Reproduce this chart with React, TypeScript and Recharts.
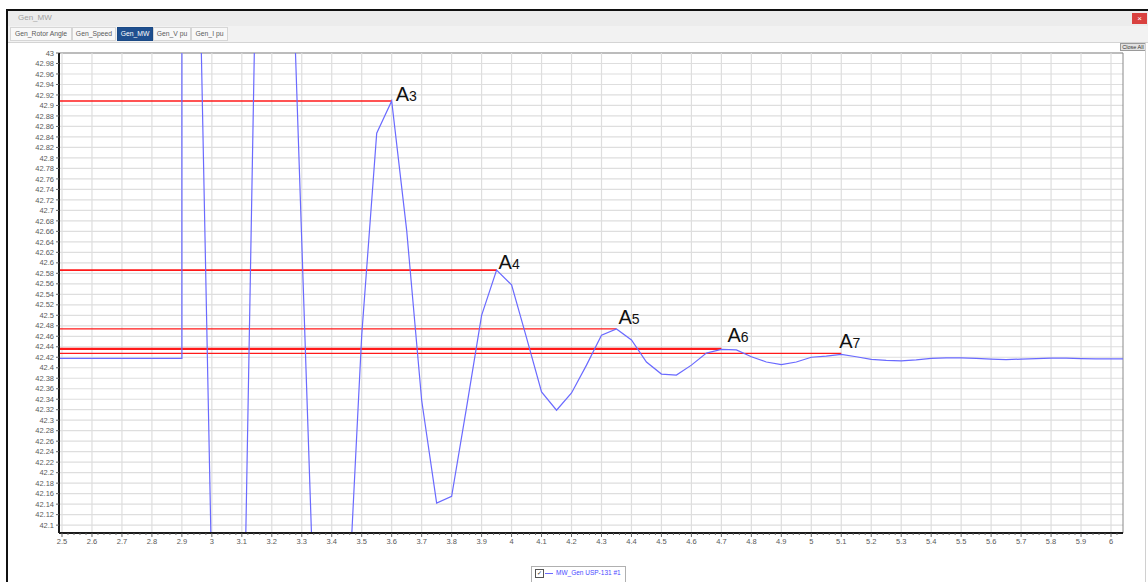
import React from 'react';
import {
  LineChart,
  Line,
  XAxis,
  YAxis,
  CartesianGrid,
  ReferenceLine,
  ReferenceDot,
  ReferenceArea,
} from 'recharts';

// ---- data (time in s, generator MW) ----
const timeS = [
  2.4, 2.9, 2.9, 2.95, 3.0, 3.05, 3.1, 3.15, 3.2, 3.25, 3.3, 3.35, 3.4, 3.45, 3.5,
  3.55, 3.6, 3.65, 3.7, 3.75, 3.8, 3.85, 3.9, 3.95, 4.0, 4.05, 4.1, 4.15, 4.2, 4.25,
  4.3, 4.35, 4.4, 4.45, 4.5, 4.55, 4.6, 4.65, 4.7, 4.75, 4.8, 4.85, 4.9, 4.95, 5.0,
  5.05, 5.1, 5.15, 5.2, 5.25, 5.3, 5.35, 5.4, 5.45, 5.5, 5.55, 5.6, 5.65, 5.7, 5.75,
  5.8, 5.85, 5.9, 5.95, 6.0, 6.05,
];
const mwValues = [
  42.418, 42.418, 44.8, 43.433, 41.988, 41.5, 41.654, 43.27, 43.8, 43.498, 42.64, 41.781, 41.5, 41.89, 42.462,
  42.847, 42.9085, 42.662, 42.338, 42.142, 42.155, 42.325, 42.5, 42.586, 42.558, 42.457, 42.354, 42.319, 42.352, 42.405,
  42.462, 42.474, 42.453, 42.411, 42.388, 42.386, 42.405, 42.428, 42.435, 42.434, 42.421, 42.411, 42.406, 42.411, 42.42,
  42.422, 42.4256, 42.421, 42.416, 42.414, 42.413, 42.415, 42.418, 42.419, 42.419, 42.418, 42.4165, 42.4155, 42.4165, 42.4175,
  42.4185, 42.4185, 42.4175, 42.417, 42.417, 42.417,
];

// peaks marked A3..A7
const peakNames = ['3', '4', '5', '6', '7'];
const peakTimes = [3.6, 3.95, 4.35, 4.7, 5.1];
const peakMW = [42.9085, 42.586, 42.474, 42.436, 42.4275];

// axis settings
const xDomain = [2.49, 6.04];
const yDomain = [42.085, 43];
const xMajorTicks = [
  2.5, 2.6, 2.7, 2.8, 2.9, 3.0, 3.1, 3.2, 3.3, 3.4, 3.5, 3.6, 3.7, 3.8, 3.9, 4.0, 4.1, 4.2,
  4.3, 4.4, 4.5, 4.6, 4.7, 4.8, 4.9, 5.0, 5.1, 5.2, 5.3, 5.4, 5.5, 5.6, 5.7, 5.8, 5.9, 6.0,
];
const xAllTicks: number[] = [];
for (let i = 0; i <= 176; i++) xAllTicks.push(Math.round((2.5 + i * 0.02) * 1000) / 1000);
const yTicks: number[] = [];
for (let i = 0; i <= 45; i++) yTicks.push(Math.round((42.1 + i * 0.02) * 1000) / 1000);

const data = timeS.map((t, i) => ({ t, mw: mwValues[i] }));

// styling
const FONT = '"Liberation Sans", Arial, sans-serif';
const labelNudge = [
  [4, 0],
  [2, -1],
  [2, -5],
  [6, -7],
  [-2, -5],
];
const redWidths = [1.5, 1.8, 1.3, 2.2, 1.3];

const fmt = (v: number) => String(Math.round(v * 1000) / 1000);

const XTick = (props: any) => {
  const { x, y, payload } = props;
  const v = payload.value as number;
  const major = Math.abs(v * 10 - Math.round(v * 10)) < 1e-6;
  return (
    <g>
      <line x1={x} x2={x} y1={y} y2={y + (major ? 4 : 2)} stroke="#666" strokeWidth={1} />
      {major && (
        <text x={x} y={y + 11} textAnchor="middle" fontSize={7.5} fill="#5a5a5a" fontFamily={FONT}>
          {fmt(v)}
        </text>
      )}
    </g>
  );
};

const makePeakLabel = (i: number) => (props: any) => {
  const vb = props.viewBox || {};
  const cx = (vb.x || 0) + (vb.width || 0) / 2;
  const cy = (vb.y || 0) + (vb.height || 0) / 2;
  return (
    <text x={cx + labelNudge[i][0]} y={cy + labelNudge[i][1]} fontFamily={FONT} fill="#111">
      <tspan fontSize={20}>A</tspan>
      <tspan fontSize={14}>{peakNames[i]}</tspan>
    </text>
  );
};

const tabs = [
  { name: 'Gen_Rotor Angle', left: 10, right: 72 },
  { name: 'Gen_Speed', left: 72, right: 116 },
  { name: 'Gen_MW', left: 117, right: 153 },
  { name: 'Gen_V pu', left: 153, right: 191 },
  { name: 'Gen_I pu', left: 191, right: 228 },
];
const selectedTab = 'Gen_MW';

export default function App() {
  return (
    <div
      style={{
        position: 'fixed',
        left: 0,
        top: 0,
        width: 1148,
        height: 582,
        background: '#fff',
        overflow: 'hidden',
        fontFamily: FONT,
      }}
    >
      {/* window frame */}
      <div
        style={{
          position: 'absolute',
          left: 6,
          top: 9,
          width: 1150,
          height: 580,
          borderTop: '2px solid #111',
          borderLeft: '2px solid #111',
        }}
      />
      {/* title bar */}
      <div
        style={{
          position: 'absolute',
          left: 8,
          top: 11,
          width: 1140,
          height: 15,
          background: '#ececec',
        }}
      >
        <span style={{ position: 'absolute', left: 10, top: 2, fontSize: 8, color: '#a0a0a0' }}>Gen_MW</span>
        <div
          style={{
            position: 'absolute',
            left: 1124,
            top: 2,
            width: 15,
            height: 11,
            background: '#d9413f',
            color: '#fff',
            fontSize: 8,
            lineHeight: '11px',
            textAlign: 'center',
          }}
        >
          ×
        </div>
      </div>
      {/* tab strip */}
      <div
        style={{
          position: 'absolute',
          left: 8,
          top: 26,
          width: 1140,
          height: 16,
          background: '#f2f2f2',
          borderBottom: '1px solid #d4d4d4',
        }}
      />
      {tabs.map((tb) => {
        const sel = tb.name === selectedTab;
        return (
          <div
            key={tb.name}
            style={{
              position: 'absolute',
              left: tb.left,
              top: 27,
              width: tb.right - tb.left,
              height: 14,
              boxSizing: 'border-box',
              border: sel ? '1px solid #1b4a86' : '1px solid #d6d6d6',
              background: sel ? '#1f4f8f' : '#f8f8f8',
              color: sel ? '#fff' : '#5a5a5a',
              fontSize: 6.8,
              lineHeight: '12px',
              textAlign: 'center',
              whiteSpace: 'nowrap',
            }}
          >
            {tb.name}
          </div>
        );
      })}
      {/* Close All button */}
      <div
        style={{
          position: 'absolute',
          left: 1120,
          top: 43,
          width: 26,
          height: 8,
          boxSizing: 'border-box',
          border: '1px solid #9a9a9a',
          background: '#e2e2e2',
          fontSize: 5.5,
          lineHeight: '6px',
          color: '#333',
          textAlign: 'center',
          whiteSpace: 'nowrap',
        }}
      >
        Close All
      </div>
      {/* right window edge */}
      <div style={{ position: 'absolute', left: 1145, top: 42, width: 1, height: 540, background: '#d0d0d0' }} />

      {/* chart */}
      <div style={{ position: 'absolute', left: 0, top: 0 }}>
        <LineChart width={1148} height={582} data={data} margin={{ top: 53, right: 25, bottom: 29, left: 0 }}>
          <CartesianGrid vertical={false} stroke="#dedede" strokeWidth={1.2} />
          {xMajorTicks.map((v) => (
            <ReferenceLine key={'vg' + v} x={v} stroke="#dedede" strokeWidth={1.2} />
          ))}
          <ReferenceArea
            x1={xDomain[0]}
            x2={xDomain[1]}
            y1={yDomain[0]}
            y2={yDomain[1]}
            fill="none"
            fillOpacity={0}
            stroke="#8a8a8a"
            strokeWidth={1}
          />
          <XAxis
            dataKey="t"
            type="number"
            domain={xDomain}
            allowDataOverflow
            ticks={xAllTicks}
            interval={0}
            tickLine={false}
            tickSize={0}
            tickMargin={0}
            height={20}
            axisLine={{ stroke: '#1a1a1a', strokeWidth: 2 }}
            tick={<XTick />}
          />
          <YAxis
            type="number"
            domain={yDomain}
            allowDataOverflow
            ticks={yTicks}
            interval={0}
            width={59}
            tickSize={3}
            tickMargin={2}
            tickFormatter={fmt}
            tick={{ fontSize: 7.5, fill: '#5a5a5a', fontFamily: FONT }}
            tickLine={{ stroke: '#666' }}
            axisLine={{ stroke: '#1a1a1a', strokeWidth: 2 }}
          />
          {peakTimes.map((pt, i) => (
            <ReferenceLine
              key={'rl' + i}
              segment={[
                { x: xDomain[0], y: peakMW[i] },
                { x: pt, y: peakMW[i] },
              ]}
              stroke="#ff1a1a"
              strokeWidth={redWidths[i]}
            />
          ))}
          <Line
            type="linear"
            dataKey="mw"
            stroke="#6a6aff"
            strokeWidth={1.2}
            dot={false}
            isAnimationActive={false}
          />
          {peakTimes.map((pt, i) => (
            <ReferenceDot
              key={'rd' + i}
              x={pt}
              y={peakMW[i]}
              r={2}
              fill="none"
              stroke="none"
              label={makePeakLabel(i)}
            />
          ))}
        </LineChart>
      </div>

      {/* legend */}
      <div
        style={{
          position: 'absolute',
          left: 531,
          top: 566,
          width: 95,
          height: 18,
          boxSizing: 'border-box',
          border: '1px solid #b0b0b0',
          background: '#fff',
        }}
      >
        <div
          style={{
            position: 'absolute',
            left: 3,
            top: 2,
            width: 7,
            height: 7,
            border: '1px solid #555',
            fontSize: 6,
            lineHeight: '7px',
            textAlign: 'center',
            color: '#222',
          }}
        >
          ✓
        </div>
        <div style={{ position: 'absolute', left: 13, top: 6, width: 8, height: 1, background: '#6a6aff' }} />
        <span
          style={{
            position: 'absolute',
            left: 24,
            top: 2,
            fontSize: 6.5,
            color: '#4a4aff',
            whiteSpace: 'nowrap',
          }}
        >
          MW_Gen USP-131 #1
        </span>
      </div>
    </div>
  );
}
